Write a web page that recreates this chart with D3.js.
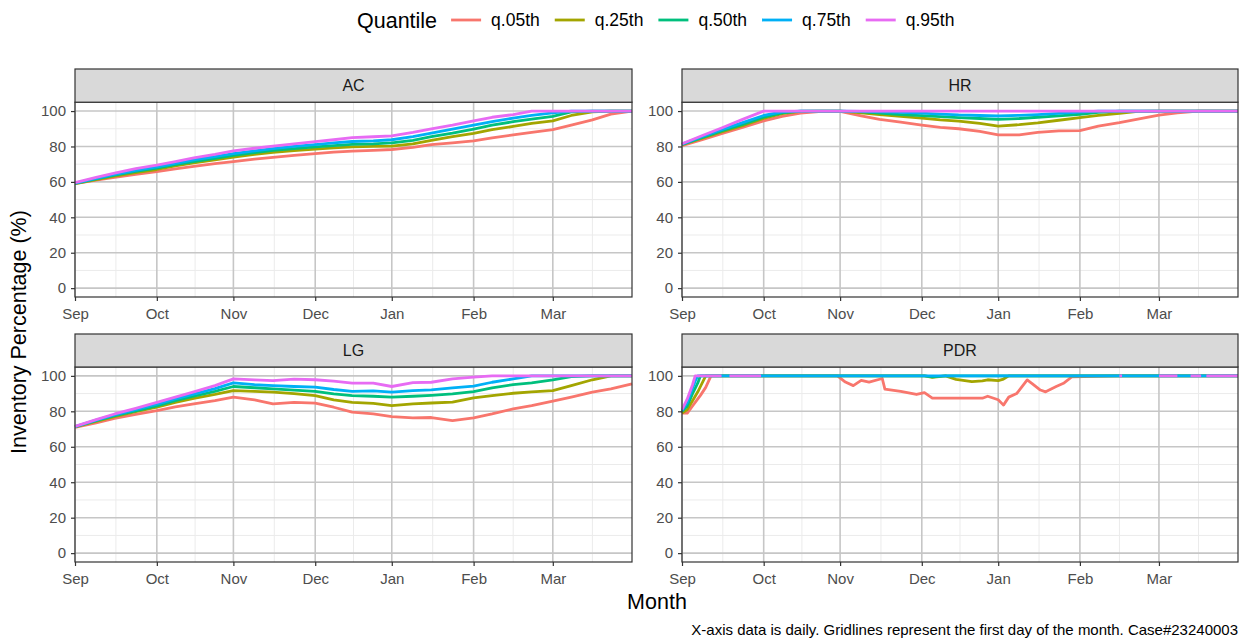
<!DOCTYPE html>
<html><head><meta charset="utf-8">
<script src="https://cdn.jsdelivr.net/npm/d3@7"></script>
<style>
body{margin:0;background:#fff}
svg{display:block}
text{font-family:"Liberation Sans",Arial,Helvetica,sans-serif}
</style>
</head><body>
<svg id="chart" width="1244" height="639"></svg>
<script>
// ---------------- DATA ----------------
const quantiles = ["q.05th","q.25th","q.50th","q.75th","q.95th"];
const colors = ["#F8766D","#A3A500","#00BF7D","#00B0F6","#E76BF3"];
const panelNames = ["AC","HR","LG","PDR"];
const monthLabels = ["Sep","Oct","Nov","Dec","Jan","Feb","Mar"];
const monthTickDays = [0,31,60,91,120,151,181];   // day index of the first day of each month on the axis
const yTicks = [0,20,40,60,80,100];
const yMinor = [10,30,50,70,90];

// day index (0 = Sep 1)
const days = [0,8,15,23,31,38,45,53,60,68,75,83,91,98,105,113,120,128,135,143,151,158,166,173,181,188,196,203,211];

const acQ05 = [59,61,62.5,64.3,65.8,67.3,68.8,70.3,71.5,72.8,73.8,75,76,76.8,77.4,77.8,78.3,79.5,81,82,83.2,84.8,86.5,88,89.5,92,95,98.3,100];
const acQ25 = [59,61.3,63.3,65.3,67,69,70.7,72.5,74,75.5,76.7,77.6,78.5,79.2,79.8,80,80.2,81.5,83.5,85.5,87.4,89.5,91.3,93,94.5,97.5,99.5,100,100];
const acQ50 = [59.2,61.7,63.8,66,67.8,69.8,71.5,73.3,75,76.5,77.8,78.8,79.8,80.5,81.2,81.5,82,83.5,85.5,87.5,89.8,92,94,95.5,97,99.5,100,100,100];
const acQ75 = [59.3,62,64.3,66.5,68.5,70.5,72.5,74.3,76,77.5,78.8,80,81.1,82,82.8,83.2,83.8,85.5,87.5,89.8,92.1,94,96,97.5,99,100,100,100,100];
const acQ95 = [59.6,62.5,65,67.5,69.5,71.5,73.5,75.5,77.5,79,80.2,81.5,82.7,83.8,85,85.5,86,88,90,92,94.5,96.5,98,100,100,100,100,100,100];

const hrQ05 = [80.5,84,87.3,90.8,94.5,97,98.8,99.8,99.8,97.3,95.3,93.8,92.1,90.8,90,88.5,86.5,86.5,88,88.8,88.9,91.5,93.5,95.5,97.7,99,100,100,100];
const hrQ25 = [81,84.8,88.2,91.8,95.8,98.5,99.8,100,100,99,98,97,96,95,94.3,93,91.5,92.3,93.3,94.8,96.3,97.5,98.7,99.8,100,100,100,100,100];
const hrQ50 = [81.2,85.3,88.8,92.5,96.5,99,100,100,100,99.5,98.8,98,97.4,96.8,96.3,95.8,95.3,95.8,96.5,97.3,98.2,99.2,100,100,100,100,100,100,100];
const hrQ75 = [81.3,85.8,89.5,93.5,97.5,99.5,100,100,100,99.8,99.5,99.2,98.8,98.3,97.8,97.5,97.2,97.6,98,98.7,99.4,100,100,100,100,100,100,100,100];
const hrQ95 = [81.5,86.3,90.4,95.3,100,100,100,100,100,100,100,100,100,100,100,100,100,100,100,100,100,100,100,100,100,100,100,100,100];

const lgQ05 = [71,73.5,76,78.3,80.4,82.5,84.2,86,88,86.5,84.2,85.1,84.6,82.3,79.5,78.5,77,76.3,76.5,74.8,76.3,78.5,81.4,83.2,85.7,88,90.8,92.7,95.5];
const lgQ25 = [71.2,74.3,77,79.8,82.3,85,87.3,89.5,91.7,91.2,90.8,90,88.9,86.5,85,84.5,83.2,84.2,84.7,85.2,87.6,88.9,90.2,91,91.7,94.5,97.8,100,100];
const lgQ50 = [71.3,74.7,77.5,80.2,83,86,88.5,91.3,94,93.3,92.7,92,91.3,89.8,88.9,88.5,88,88.5,89,89.8,91.1,93.2,95.1,96,97.7,99.6,100,100,100];
const lgQ75 = [71.4,75,78,81,84,87,89.7,92.8,96,95,94.5,94,93.6,92.3,91.3,91.5,90.8,91.7,92.1,93.2,94.2,96.4,98.3,100,100,100,100,100,100];
const lgQ95 = [71.5,75.3,78.5,81.7,85,88,91,94.5,98.3,97.7,97.3,98.2,97.8,97,95.9,95.9,94,96.2,96.4,98.3,99.3,100,100,100,100,100,100,100,100];

const pdrDays = [0,2,4,5,6,7,9,11,15,16,18,30,31,59,62,65,68,71,76,77,83,89,92,95,100,104,110,114,116,120,122,124,127,131,133,136,138,142,145,148,166,167,168,181,188,190,193,197,198,199,211];
const pdrQ05 = [79,79,83,85,87,89,93.5,100,100,100,100,100,100,100,96.5,94.5,97.5,96.5,98.5,92.5,91.2,89.5,90.5,87.4,87.4,87.4,87.4,87.4,88.5,86.5,83.5,88,90,97.7,95.5,92,91,94,96,99.5,100,100,100,100,100,100,100,100,100,100,100];
const pdrQ25 = [79,81,86,88.5,91,94,100,100,100,100,100,100,100,100,100,100,100,100,100,100,100,100,100,99.2,100,98,96.8,97.2,97.8,97.3,98.2,100,100,100,100,100,100,100,100,100,100,100,100,100,100,100,100,100,100,100,100];
const pdrQ50 = [80,83,90,93,96,100,100,100,100,100,100,100,100,100,100,100,100,100,100,100,100,100,100,99.4,100,100,100,100,100,100,100,100,100,100,100,100,100,100,100,100,100,100,100,100,100,100,100,100,100,100,100];
const pdrQ75 = [80.5,85,93,97,100,100,100,100,100,100,100,100,100,100,100,100,100,100,100,100,100,100,100,100,100,100,100,100,100,100,100,100,100,100,100,100,100,100,100,100,100,100,100,100,100,100,100,100,100,100,100];
const pdrQ95 = [81,87,95,100,100,100,100,100,100,null,100,100,null,null,null,null,null,null,null,null,null,null,null,null,null,null,null,null,null,null,null,null,null,null,null,null,null,null,null,null,100,100,null,100,100,null,100,100,null,100,100];

const caption = "X-axis data is daily. Gridlines represent the first day of the month. Case#23240003";

// ---------------- BUILD ----------------
const panelData = [
  {name:"AC",  days:days,    series:[acQ05,acQ25,acQ50,acQ75,acQ95]},
  {name:"HR",  days:days,    series:[hrQ05,hrQ25,hrQ50,hrQ75,hrQ95]},
  {name:"LG",  days:days,    series:[lgQ05,lgQ25,lgQ50,lgQ75,lgQ95]},
  {name:"PDR", days:pdrDays, series:[pdrQ05,pdrQ25,pdrQ50,pdrQ75,pdrQ95]}
];
const layout = [
  {x0:75,  x1:632,  y0:102.2, y1:297, st:69},
  {x0:682, x1:1238, y0:102.2, y1:297, st:69},
  {x0:75,  x1:632,  y0:367,   y1:562, st:334},
  {x0:682, x1:1238, y0:367,   y1:562, st:334}
];

const svg = d3.select("#chart");
svg.append("rect").attr("width",1244).attr("height",639).attr("fill","#fff");

const xMinor = [];
for (let i=0;i<monthTickDays.length;i++){
  const a = monthTickDays[i], b = i<monthTickDays.length-1 ? monthTickDays[i+1] : null;
  if (b!==null) xMinor.push((a+b)/2);
  else xMinor.push(a + (a-monthTickDays[i-1])/2);
}

panelData.forEach((p,pi)=>{
  const L = layout[pi];
  const x = d3.scaleLinear().domain([0,211]).range([L.x0,L.x1]);
  const y = d3.scaleLinear().domain([-5,105]).range([L.y1,L.y0]);
  const g = svg.append("g");

  g.append("rect").attr("x",L.x0).attr("y",L.y0).attr("width",L.x1-L.x0).attr("height",L.y1-L.y0).attr("fill","#fff");

  // minor grid
  g.selectAll(".ymin").data(yMinor).enter().append("line")
    .attr("x1",L.x0).attr("x2",L.x1).attr("y1",d=>y(d)).attr("y2",d=>y(d))
    .attr("stroke","#EBEBEB").attr("stroke-width",1);
  g.selectAll(".xmin").data(xMinor.filter(d=>d<=211)).enter().append("line")
    .attr("y1",L.y0).attr("y2",L.y1).attr("x1",d=>x(d)).attr("x2",d=>x(d))
    .attr("stroke","#EBEBEB").attr("stroke-width",1);
  // major grid
  g.selectAll(".ymaj").data(yTicks).enter().append("line")
    .attr("x1",L.x0).attr("x2",L.x1).attr("y1",d=>y(d)).attr("y2",d=>y(d))
    .attr("stroke","#C6C6C6").attr("stroke-width",1.6);
  g.selectAll(".xmaj").data(monthTickDays).enter().append("line")
    .attr("y1",L.y0).attr("y2",L.y1).attr("x1",d=>x(d)).attr("x2",d=>x(d))
    .attr("stroke","#C6C6C6").attr("stroke-width",1.6);

  // lines
  const line = d3.line().defined(d=>d.v!=null).x(d=>x(d.day)).y(d=>y(d.v));
  p.series.forEach((vals,si)=>{
    const pts = p.days.map((dd,k)=>({day:dd, v:vals[k]}));
    g.append("path").attr("d",line(pts)).attr("fill","none")
      .attr("stroke",colors[si]).attr("stroke-width",2.8)
      .attr("stroke-linejoin","round").attr("stroke-linecap","butt");
  });

  // border
  g.append("rect").attr("x",L.x0).attr("y",L.y0).attr("width",L.x1-L.x0).attr("height",L.y1-L.y0)
    .attr("fill","none").attr("stroke","#333").attr("stroke-width",1.2);

  // strip
  g.append("rect").attr("x",L.x0).attr("y",L.st).attr("width",L.x1-L.x0).attr("height",L.y0-L.st)
    .attr("fill","#D9D9D9").attr("stroke","#333").attr("stroke-width",1.2);
  g.append("text").attr("x",(L.x0+L.x1)/2).attr("y",(L.st+L.y0)/2).attr("dy","0.35em")
    .attr("text-anchor","middle").attr("font-size",16).attr("fill","#1A1A1A").text(p.name);

  // axes
  const ax = g.append("g").attr("transform",`translate(0,${L.y1})`)
    .call(d3.axisBottom(x).tickValues(monthTickDays).tickFormat((d,i)=>monthLabels[i]).tickSize(4).tickPadding(7));
  const ay = g.append("g").attr("transform",`translate(${L.x0},0)`)
    .call(d3.axisLeft(y).tickValues(yTicks).tickSize(4).tickPadding(5));
  [ax,ay].forEach(a=>{
    a.select(".domain").remove();
    a.selectAll(".tick line").attr("stroke","#333").attr("stroke-width",1.2);
    a.selectAll(".tick text").attr("fill","#4D4D4D").attr("font-size",15)
      .attr("font-family",'"Liberation Sans",Arial,sans-serif');
  });
});

// axis titles
svg.append("text").attr("transform","translate(26,332) rotate(-90)").attr("text-anchor","middle")
  .attr("font-size",21.5).attr("fill","#000").text("Inventory Percentage (%)");
svg.append("text").attr("x",657).attr("y",609).attr("text-anchor","middle")
  .attr("font-size",21.5).attr("fill","#000").text("Month");
svg.append("text").attr("x",1238).attr("y",635).attr("text-anchor","end")
  .attr("font-size",15).attr("fill","#000").text(caption);

// legend
const lg = svg.append("g");
const title = lg.append("text").attr("x",357).attr("y",28).attr("font-size",21.5).attr("fill","#000").text("Quantile");
let cx = 357 + title.node().getComputedTextLength() + 14;
quantiles.forEach((q,i)=>{
  lg.append("line").attr("x1",cx).attr("x2",cx+30).attr("y1",20).attr("y2",20)
    .attr("stroke",colors[i]).attr("stroke-width",2.8);
  const t = lg.append("text").attr("x",cx+40).attr("y",26).attr("font-size",17.5).attr("fill","#000").text(q);
  cx = cx + 40 + t.node().getComputedTextLength() + 15;
});
</script>
</body></html>
